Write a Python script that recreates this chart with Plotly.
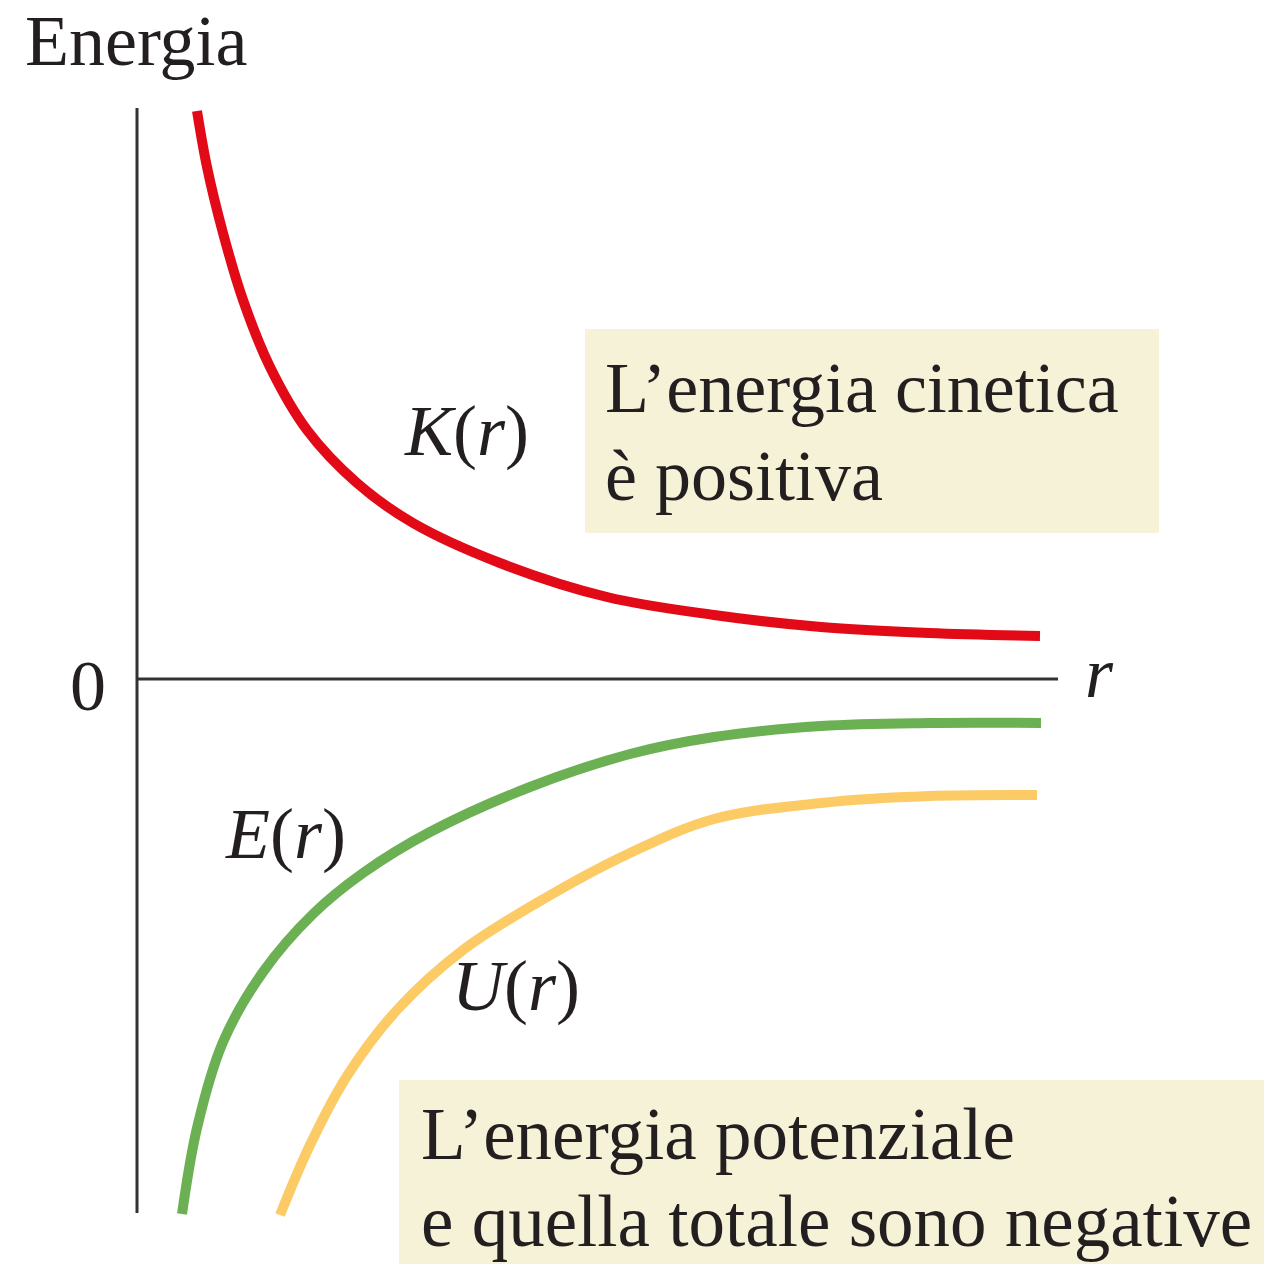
import plotly.graph_objects as go

# Distance r (arbitrary units) and the three energy curves (arbitrary units)
r_K = [0.60, 0.70, 0.86, 1.06, 1.33, 1.70, 2.20, 2.76, 3.63, 4.70, 5.77, 6.84, 7.92, 9.03]
K = [5.68, 5.12, 4.46, 3.79, 3.12, 2.49, 1.96, 1.56, 1.16, 0.82, 0.64, 0.52, 0.46, 0.43]

r_E = [0.45, 0.60, 0.86, 1.26, 1.76, 2.26, 2.93, 3.93, 4.93, 5.77, 6.84, 7.92, 9.04]
E = [-5.35, -4.49, -3.63, -2.93, -2.35, -1.94, -1.53, -1.08, -0.75, -0.58, -0.47, -0.44, -0.44]

r_U = [1.43, 1.73, 2.10, 2.60, 3.26, 4.10, 4.93, 5.77, 6.84, 7.92, 9.00]
U = [-5.36, -4.66, -3.97, -3.31, -2.71, -2.18, -1.74, -1.40, -1.24, -1.17, -1.16]

# Extent of the drawn axes
r_axis_end = 9.21
energy_top = 5.71
energy_bottom = -5.34

SERIF = "Liberation Serif, Times New Roman, serif"
AXIS_COLOR = "#333333"
BOX_COLOR = "#F6F2D7"

fig = go.Figure()

# Shaded note boxes
fig.add_shape(type="rect", x0=4.48, x1=10.22, y0=1.46, y1=3.50,
              fillcolor=BOX_COLOR, line_width=0, layer="below")
fig.add_shape(type="rect", x0=2.62, x1=11.4, y0=-6.0, y1=-4.01,
              fillcolor=BOX_COLOR, line_width=0, layer="below")

# Axes
fig.add_trace(go.Scatter(x=[0, 0], y=[energy_bottom, energy_top], mode="lines",
                         line=dict(color=AXIS_COLOR, width=3), hoverinfo="skip"))
fig.add_trace(go.Scatter(x=[0, r_axis_end], y=[0, 0], mode="lines",
                         line=dict(color=AXIS_COLOR, width=3), hoverinfo="skip"))

# Energy curves
curve_line = dict(width=10, shape="spline", smoothing=1.0)
fig.add_trace(go.Scatter(x=r_K, y=K, mode="lines", name="K(r)",
                         line=dict(color="#E20A17", **curve_line)))
fig.add_trace(go.Scatter(x=r_E, y=E, mode="lines", name="E(r)",
                         line=dict(color="#6BB052", **curve_line)))
fig.add_trace(go.Scatter(x=r_U, y=U, mode="lines", name="U(r)",
                         line=dict(color="#FCCB66", **curve_line)))


def label(text, x, y, xanchor="left", size=72):
    fig.add_annotation(x=x, y=y, text=text, showarrow=False,
                       xanchor=xanchor, yanchor="middle",
                       font=dict(family=SERIF, size=size, color="#231F20"))


label("Energia", -1.14, 6.38)
label("0", -0.29, -0.07, xanchor="right")
label("<i>r</i>", 9.46, 0.06)
label("<i>K</i>(<i>r</i>)", 2.65, 2.48)
label("<i>E</i>(<i>r</i>)", 0.86, -1.55)
label("<i>U</i>(<i>r</i>)", 3.13, -3.07)
label("L’energia cinetica", 4.66, 2.91)
label("è positiva", 4.66, 2.03)
label("L’energia potenziale", 2.82, -4.55, size=73)
label("e quella totale sono negative", 2.82, -5.42, size=73)

fig.update_layout(
    width=1264, height=1264,
    margin=dict(l=0, r=0, t=0, b=0),
    paper_bgcolor="white", plot_bgcolor="white",
    showlegend=False,
    xaxis=dict(range=[-1.37, 11.27], visible=False, fixedrange=True),
    yaxis=dict(range=[-5.85, 6.79], visible=False, fixedrange=True),
)

fig.write_html("out.html")
